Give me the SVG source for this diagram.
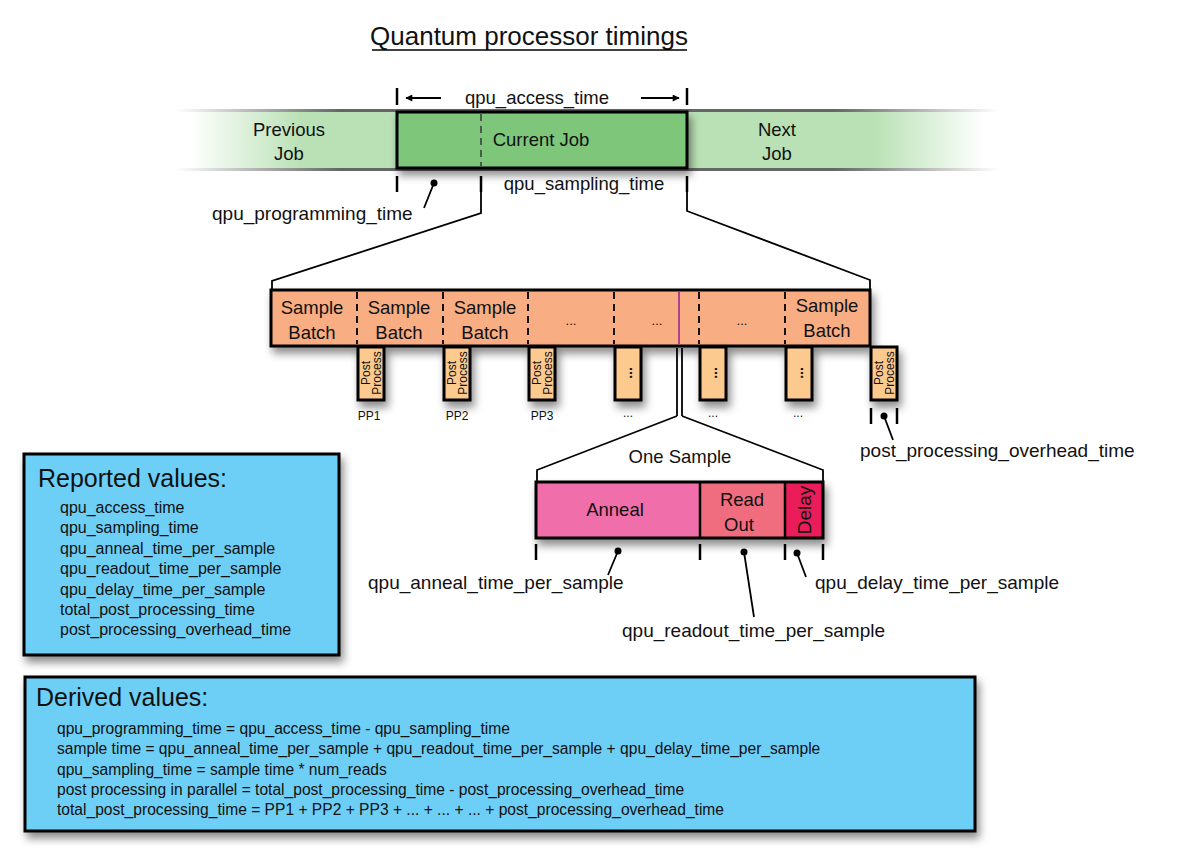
<svg xmlns="http://www.w3.org/2000/svg" width="1182" height="858" viewBox="0 0 1182 858">
<defs>
<style>
text{font-family:"Liberation Sans",Arial,sans-serif;fill:#111}
.t18{font-size:18.5px}
.lbl{font-size:19px}
.small{font-size:12px}
.item{font-size:16px}
.ditem{font-size:15.6px}
.head{font-size:25px}
.box{stroke:#000;stroke-width:3}
.tick{stroke:#000;stroke-width:2.5;fill:none}
.ln{stroke:#000;stroke-width:1.8;fill:none}
.dash{stroke:#000;stroke-width:1.8;stroke-dasharray:7 5;fill:none}
</style>
<filter id="sh" x="-10%" y="-20%" width="130%" height="160%">
<feDropShadow dx="3" dy="6" stdDeviation="4" flood-color="#000" flood-opacity="0.45"/>
</filter>
<linearGradient id="band" x1="190" y1="0" x2="985" y2="0" gradientUnits="userSpaceOnUse">
<stop offset="0" stop-color="#b9e1b5" stop-opacity="0"/>
<stop offset="0.14" stop-color="#b9e1b5" stop-opacity="1"/>
<stop offset="0.86" stop-color="#b9e1b5" stop-opacity="1"/>
<stop offset="1" stop-color="#b9e1b5" stop-opacity="0"/>
</linearGradient>
<linearGradient id="edge" x1="175" y1="0" x2="1000" y2="0" gradientUnits="userSpaceOnUse">
<stop offset="0" stop-color="#555" stop-opacity="0"/>
<stop offset="0.2" stop-color="#555" stop-opacity="0.9"/>
<stop offset="0.8" stop-color="#555" stop-opacity="0.9"/>
<stop offset="1" stop-color="#555" stop-opacity="0"/>
</linearGradient>
<marker id="ah" viewBox="0 0 10 10" refX="9" refY="5" markerWidth="9" markerHeight="7" markerUnits="userSpaceOnUse" orient="auto">
<path d="M0,0 L10,5 L0,10 Z" fill="#000"/>
</marker>
</defs>
<rect width="1182" height="858" fill="#fff"/>

<g id="title">
<text x="529" y="45" text-anchor="middle" style="font-size:26px">Quantum processor timings</text>
<line x1="372" y1="50" x2="687" y2="50" stroke="#000" stroke-width="1.5"/>
</g>

<g id="job-band">
<rect x="180" y="112" width="810" height="56" fill="url(#band)"/>
<rect x="175" y="109" width="825" height="3" fill="url(#edge)"/>
<rect x="175" y="168" width="825" height="3" fill="url(#edge)"/>
<text class="t18" x="289" y="136" text-anchor="middle">Previous</text>
<text class="t18" x="289" y="160" text-anchor="middle">Job</text>
<text class="t18" x="777" y="136" text-anchor="middle">Next</text>
<text class="t18" x="777" y="160" text-anchor="middle">Job</text>
</g>

<g id="current-job">
<rect class="box" x="397" y="112" width="290" height="56" fill="#7dc67a" filter="url(#sh)"/>
<line x1="481" y1="114" x2="481" y2="166" stroke="#4a5a48" stroke-width="2" stroke-dasharray="7 5"/>
<text class="t18" x="541" y="146" text-anchor="middle">Current Job</text>
</g>

<g id="access-time">
<line class="tick" x1="397" y1="88" x2="397" y2="105"/>
<line class="tick" x1="687" y1="88" x2="687" y2="105"/>
<line class="ln" x1="441" y1="98" x2="406" y2="98" marker-end="url(#ah)"/>
<line class="ln" x1="641" y1="98" x2="679" y2="98" marker-end="url(#ah)"/>
<text class="t18" x="537" y="104" text-anchor="middle">qpu_access_time</text>
</g>

<g id="sampling-time">
<line class="tick" x1="397" y1="176" x2="397" y2="192"/>
<line class="tick" x1="481" y1="176" x2="481" y2="192"/>
<line class="tick" x1="687" y1="176" x2="687" y2="192"/>
<text class="t18" x="584" y="190" text-anchor="middle">qpu_sampling_time</text>
</g>

<g id="programming-time">
<circle cx="434" cy="183" r="3.5" fill="#000"/>
<text class="lbl" x="212" y="220">qpu_programming_time</text>
</g>

<g id="sample-batches">
<rect class="box" x="271" y="290" width="599" height="56" fill="#f8ad82" filter="url(#sh)"/>
<line class="dash" x1="357" y1="292" x2="357" y2="344"/>
<line class="dash" x1="443" y1="292" x2="443" y2="344"/>
<line class="dash" x1="528" y1="292" x2="528" y2="344"/>
<line class="dash" x1="614" y1="292" x2="614" y2="344"/>
<line class="dash" x1="699" y1="292" x2="699" y2="344"/>
<line class="dash" x1="785" y1="292" x2="785" y2="344"/>
<line x1="679" y1="292" x2="679" y2="344" stroke="#b0408a" stroke-width="2"/>
<text class="t18" x="312" y="314" text-anchor="middle">Sample</text>
<text class="t18" x="312" y="339" text-anchor="middle">Batch</text>
<text class="t18" x="399" y="314" text-anchor="middle">Sample</text>
<text class="t18" x="399" y="339" text-anchor="middle">Batch</text>
<text class="t18" x="485" y="314" text-anchor="middle">Sample</text>
<text class="t18" x="485" y="339" text-anchor="middle">Batch</text>
<text class="t18" x="827" y="312" text-anchor="middle">Sample</text>
<text class="t18" x="827" y="337" text-anchor="middle">Batch</text>
<text x="571" y="325" text-anchor="middle" style="font-size:13px">...</text>
<text x="657" y="325" text-anchor="middle" style="font-size:13px">...</text>
<text x="742" y="325" text-anchor="middle" style="font-size:13px">...</text>
</g>

<g id="post-process">
<g filter="url(#sh)">
<rect class="box" x="358" y="347" width="26" height="53" fill="#fcc98e"/>
<rect class="box" x="444" y="347" width="26" height="53" fill="#fcc98e"/>
<rect class="box" x="529" y="347" width="26" height="53" fill="#fcc98e"/>
<rect class="box" x="615" y="347" width="26" height="53" fill="#fcc98e"/>
<rect class="box" x="700" y="347" width="26" height="53" fill="#fcc98e"/>
<rect class="box" x="786" y="347" width="26" height="53" fill="#fcc98e"/>
<rect class="box" x="871" y="347" width="26" height="53" fill="#fcc98e"/>
</g>
<g class="small" text-anchor="middle">
<text transform="translate(371,373) rotate(-90)" y="-1">Post</text>
<text transform="translate(371,373) rotate(-90)" y="10">Process</text>
<text transform="translate(457,373) rotate(-90)" y="-1">Post</text>
<text transform="translate(457,373) rotate(-90)" y="10">Process</text>
<text transform="translate(542,373) rotate(-90)" y="-1">Post</text>
<text transform="translate(542,373) rotate(-90)" y="10">Process</text>
<text transform="translate(884,373) rotate(-90)" y="-1">Post</text>
<text transform="translate(884,373) rotate(-90)" y="10">Process</text>
<text transform="translate(628,373) rotate(-90)" y="4" style="font-size:14px;font-weight:bold">...</text>
<text transform="translate(713,373) rotate(-90)" y="4" style="font-size:14px;font-weight:bold">...</text>
<text transform="translate(799,373) rotate(-90)" y="4" style="font-size:14px;font-weight:bold">...</text>
<text x="369" y="420">PP1</text>
<text x="457" y="420">PP2</text>
<text x="542" y="420">PP3</text>
<text x="628" y="417">...</text>
<text x="713" y="417">...</text>
<text x="798" y="417">...</text>
</g>
</g>

<g id="overhead-time">
<line class="tick" x1="871" y1="408" x2="871" y2="424"/>
<line class="tick" x1="897" y1="408" x2="897" y2="424"/>
<circle cx="884" cy="416" r="3.5" fill="#000"/>
<text class="lbl" x="860" y="457">post_processing_overhead_time</text>
</g>

<g id="one-sample">
<text class="t18" x="680" y="463" text-anchor="middle">One Sample</text>
<g filter="url(#sh)">
<rect x="536" y="482" width="287" height="56" fill="#f06ea9"/>
<rect x="700" y="482" width="85" height="56" fill="#f06d7f"/>
<rect x="785" y="482" width="38" height="56" fill="#ea1a5a"/>
<rect class="box" x="536" y="482" width="287" height="56" fill="none"/>
<line x1="700" y1="482" x2="700" y2="538" stroke="#000" stroke-width="2.5"/>
<line x1="785" y1="482" x2="785" y2="538" stroke="#000" stroke-width="2.5"/>
</g>
<text class="t18" x="615" y="516" text-anchor="middle">Anneal</text>
<text class="t18" x="742" y="506" text-anchor="middle">Read</text>
<text class="t18" x="739" y="531" text-anchor="middle">Out</text>
<text transform="translate(804,510) rotate(-90)" y="7" text-anchor="middle" style="font-size:19px">Delay</text>
</g>

<g id="sample-parts">
<line class="tick" x1="536" y1="544" x2="536" y2="560"/>
<line class="tick" x1="700" y1="544" x2="700" y2="560"/>
<line class="tick" x1="785" y1="544" x2="785" y2="560"/>
<line class="tick" x1="823" y1="544" x2="823" y2="560"/>
<circle cx="618" cy="551" r="3.5" fill="#000"/>
<circle cx="744" cy="552" r="3.5" fill="#000"/>
<circle cx="797" cy="553" r="3.5" fill="#000"/>
<text class="lbl" x="368" y="589">qpu_anneal_time_per_sample</text>
<text class="lbl" x="622" y="637">qpu_readout_time_per_sample</text>
<text class="lbl" x="815" y="589">qpu_delay_time_per_sample</text>
</g>

<g id="connectors">
<polyline class="ln" points="481,192 481,213 272,281 272,291"/>
<polyline class="ln" points="687,192 687,211 870,280 870,291"/>
<line class="ln" x1="434" y1="183" x2="424" y2="208"/>
<line class="ln" x1="677" y1="348" x2="677" y2="416"/>
<line class="ln" x1="682" y1="348" x2="682" y2="416"/>
<polyline class="ln" points="677,416 537,470 537,482"/>
<polyline class="ln" points="682,416 823,470 823,482"/>
<line class="ln" x1="884" y1="416" x2="893" y2="440"/>
<line class="ln" x1="618" y1="551" x2="608" y2="575"/>
<line class="ln" x1="744" y1="552" x2="754" y2="617"/>
<line class="ln" x1="797" y1="553" x2="806" y2="577"/>
</g>

<g id="reported-values">
<rect class="box" x="24" y="454" width="315" height="201" fill="#6dcff6" filter="url(#sh)"/>
<text class="head" x="38" y="487">Reported values:</text>
<g class="item">
<text x="60" y="513">qpu_access_time</text>
<text x="60" y="533">qpu_sampling_time</text>
<text x="60" y="554">qpu_anneal_time_per_sample</text>
<text x="60" y="574">qpu_readout_time_per_sample</text>
<text x="60" y="595">qpu_delay_time_per_sample</text>
<text x="60" y="615">total_post_processing_time</text>
<text x="60" y="635">post_processing_overhead_time</text>
</g>
</g>

<g id="derived-values">
<rect class="box" x="25" y="677" width="950" height="154" fill="#6dcff6" filter="url(#sh)"/>
<text class="head" x="36" y="706">Derived values:</text>
<g class="ditem">
<text x="57" y="734">qpu_programming_time = qpu_access_time - qpu_sampling_time</text>
<text x="57" y="754">sample time = qpu_anneal_time_per_sample + qpu_readout_time_per_sample + qpu_delay_time_per_sample</text>
<text x="57" y="775">qpu_sampling_time = sample time * num_reads</text>
<text x="57" y="795">post processing in parallel = total_post_processing_time - post_processing_overhead_time</text>
<text x="57" y="815">total_post_processing_time = PP1 + PP2 + PP3 + ... + ... + ... + post_processing_overhead_time</text>
</g>
</g>
</svg>
